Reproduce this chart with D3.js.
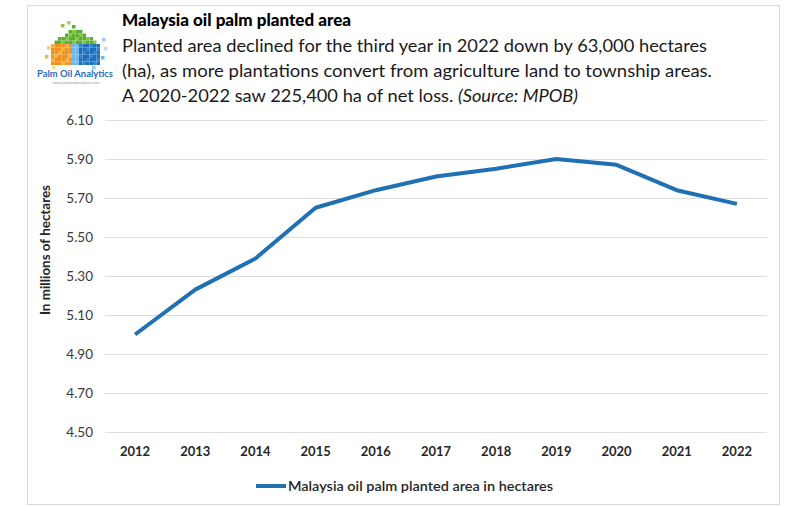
<html>
<head>
<script src="https://d3js.org/d3.v7.min.js" charset="utf-8"></script>
</head>
<body>
<div id="chart"></div>

<style>
    body {margin:0;background:#fff;}
    text {font-family: Lato, "Open Sans", sans-serif;}
</style>

<script>
const width = 788, height = 506;

// data
const years = ["2012","2013","2014","2015","2016","2017","2018","2019","2020","2021","2022"];
const area = [5.00, 5.23, 5.39, 5.65, 5.74, 5.81, 5.85, 5.90, 5.87, 5.74, 5.67];
const yTicks = [4.50, 4.70, 4.90, 5.10, 5.30, 5.50, 5.70, 5.90, 6.10];
const subtitle = [
    "Planted area declined for the third year in 2022 down by 63,000 hectares",
    "(ha), as more plantations convert from agriculture land to township areas.",
    "A 2020-2022 saw 225,400 ha of net loss. "
];

const svg = d3.select("#chart").append("svg")
    .attr("width", width)
    .attr("height", height);

// outer frame
svg.append("rect")
    .attr("x", 27.5).attr("y", 5.5)
    .attr("width", 752).attr("height", 499)
    .style("fill", "none")
    .style("stroke", "#d9d9d9");

const x = d3.scalePoint()
    .domain(years)
    .range([105, 767])
    .padding(0.5);

const y = d3.scaleLinear()
    .domain([4.5, 6.1])
    .range([432, 120]);

// gridlines
svg.append("g")
    .selectAll("line")
    .data(yTicks)
    .join("line")
    .attr("x1", 105).attr("x2", 767)
    .attr("y1", d => Math.round(y(d)) + 0.5)
    .attr("y2", d => Math.round(y(d)) + 0.5)
    .style("stroke", "#dedede")
    .style("stroke-width", 1);

// y tick labels
svg.append("g")
    .selectAll("text")
    .data(yTicks)
    .join("text")
    .attr("x", 93)
    .attr("y", d => y(d) + 4.5)
    .attr("text-anchor", "end")
    .style("font-size", "13.5px")
    .style("fill", "#3a3a3a")
    .text(d => d.toFixed(2));

// x tick labels
svg.append("g")
    .selectAll("text")
    .data(years)
    .join("text")
    .attr("x", d => x(d))
    .attr("y", 456)
    .attr("text-anchor", "middle")
    .style("font-size", "13px")
    .style("font-weight", "bold")
    .style("fill", "#262626")
    .text(d => d);

// y axis title
svg.append("text")
    .attr("transform", "translate(50,250) rotate(-90)")
    .attr("text-anchor", "middle")
    .style("font-size", "13px")
    .style("font-weight", "bold")
    .style("fill", "#262626")
    .attr("textLength", 130)
    .attr("lengthAdjust", "spacingAndGlyphs")
    .text("In millions of hectares");

// the line
const line = d3.line()
    .x((d, i) => x(years[i]))
    .y(d => y(d));

svg.append("path")
    .datum(area)
    .attr("d", line)
    .style("fill", "none")
    .style("stroke", "#2071b4")
    .style("stroke-width", 4)
    .style("stroke-linejoin", "round");

// legend
svg.append("line")
    .attr("x1", 256).attr("x2", 286)
    .attr("y1", 486).attr("y2", 486)
    .style("stroke", "#2071b4")
    .style("stroke-width", 4);

svg.append("text")
    .attr("x", 288)
    .attr("y", 491)
    .style("font-size", "13px")
    .style("font-weight", 600)
    .style("fill", "#262626")
    .attr("textLength", 265)
    .attr("lengthAdjust", "spacingAndGlyphs")
    .text("Malaysia oil palm planted area in hectares");

// title + subtitle
svg.append("text")
    .attr("x", 122).attr("y", 26)
    .style("font-size", "16.5px")
    .style("font-weight", 900)
    .style("fill", "#000")
    .attr("textLength", 229)
    .attr("lengthAdjust", "spacingAndGlyphs")
    .text("Malaysia oil palm planted area");

const subLens = [585, 590, 0];
subtitle.forEach((s, i) => {
    const t = svg.append("text")
        .attr("x", 122)
        .attr("y", 52 + i * 25)
        .style("font-size", "16.5px")
        .style("fill", "#1a1a1a");
    if (i < 2) {
        t.attr("textLength", subLens[i])
         .attr("lengthAdjust", "spacingAndGlyphs")
         .text(s);
    } else {
        t.attr("textLength", 456).attr("lengthAdjust", "spacingAndGlyphs");
        t.append("tspan").text(s);
        t.append("tspan").style("font-style", "italic").text("(Source: MPOB)");
    }
});

// logo: pixel cube, green top, orange left, blue right
const logo = svg.append("g");
const px = 3.5;
const logoCells = [];
for (let gy = 0; gy < 10; gy++) {
    for (let gx = 0; gx < 14; gx++) {
        const cx = 51 + gx * px, cy = 30 + gy * px;
        const dx = Math.abs(gx - 6.5);
        if (gy < 4 && dx > gy * 1.6 + 1.5) continue;   // tapered top
        let c;
        if (gy < 4) c = (gx + gy) % 3 ? "#5cae3c" : "#8cc63f";
        else if (gx < 6) c = (gx + gy) % 4 ? "#f0921f" : "#f6b04a";
        else if (gx < 8) c = "#6fb7e8";
        else c = (gx + gy) % 3 ? "#1f6fb5" : "#2f86cf";
        logoCells.push([cx, cy, c]);
    }
}
// scattered loose pixels
[[61,24,"#8cc63f"],[67,21,"#a5d36a"],[72,25,"#5cae3c"],[47,46,"#f8c978"],[45,55,"#f6b04a"],
 [102,38,"#9cc9ea"],[104,47,"#bcdcf3"],[101,56,"#6fb7e8"],[52,66,"#fbd9a0"],[92,66,"#9cc9ea"]]
    .forEach(d => logoCells.push(d));

logo.selectAll("rect")
    .data(logoCells)
    .join("rect")
    .attr("x", d => d[0]).attr("y", d => d[1])
    .attr("width", px).attr("height", px)
    .style("fill", d => d[2]);

logo.append("text")
    .attr("x", 75).attr("y", 77)
    .attr("text-anchor", "middle")
    .style("font-size", "9px")
    .style("font-weight", "bold")
    .style("fill", "#1f6fb5")
    .attr("textLength", 76)
    .attr("lengthAdjust", "spacingAndGlyphs")
    .text("Palm Oil Analytics");

logo.append("text")
    .attr("x", 76).attr("y", 84)
    .attr("text-anchor", "middle")
    .style("font-size", "4px")
    .style("fill", "#999")
    .text("www.palmoilanalytics.com");
</script>
</body>
</html>
